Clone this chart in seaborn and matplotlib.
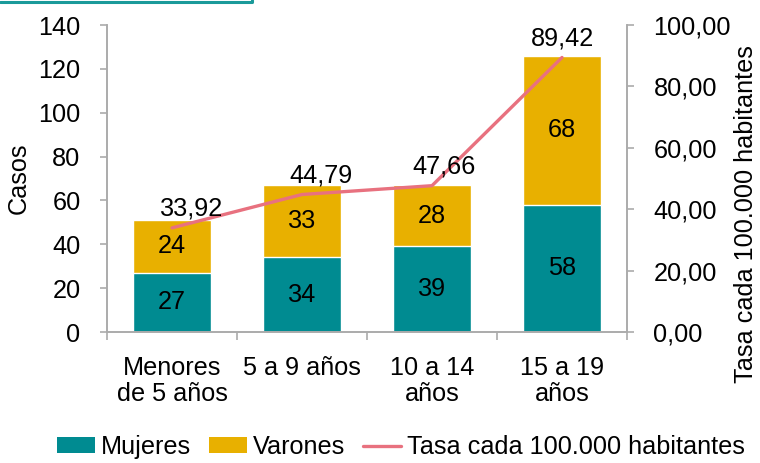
import numpy as np
import pandas as pd
import matplotlib
matplotlib.use('Agg')
import matplotlib.pyplot as plt
from matplotlib.lines import Line2D
from matplotlib.patches import Patch
import seaborn as sns

# datos
categorias = ['Menores\nde 5 años', '5 a 9 años', '10 a 14\naños', '15 a 19\naños']
mujeres = [27, 34, 39, 58]
varones = [24, 33, 28, 68]
tasa = [33.92, 44.79, 47.66, 89.42]
yticks_casos = [0, 20, 40, 60, 80, 100, 120, 140]
yticks_tasa = [0, 20, 40, 60, 80, 100]

TEAL = '#008B91'
GOLD = '#E8B000'
PINK = '#E8717F'
GRAY = '#ABABAB'

sns.set_theme(style='white')
plt.rcParams['font.family'] = ['Liberation Sans', 'DejaVu Sans']
plt.rcParams['text.color'] = 'black'
plt.rcParams['axes.labelcolor'] = 'black'
FS = 18.2

df = pd.DataFrame({'cat': categorias, 'mujeres': mujeres, 'varones': varones, 'tasa': tasa})
df['total'] = df['mujeres'] + df['varones']

fig = plt.figure(figsize=(7.6, 4.63), dpi=100)
ax = fig.add_axes([107 / 760, 1 - 332 / 463, 520 / 760, 307 / 463])

sns.barplot(data=df, x='cat', y='total', color=GOLD, width=0.6, saturation=1, ax=ax)
sns.barplot(data=df, x='cat', y='mujeres', color=TEAL, width=0.6, saturation=1, ax=ax)
ax.bar_label(ax.containers[1], labels=[str(v) for v in mujeres], label_type='center',
             fontsize=FS, color='black')
for i, (m, v) in enumerate(zip(mujeres, varones)):
    ax.text(i, m + v / 2, str(v), ha='center', va='center', fontsize=FS, color='black')

ax.set_xlim(-0.5, len(categorias) - 0.5)
ax.set_ylim(0, 140)
ax.set_yticks(yticks_casos)
ax.set_yticklabels([str(t) for t in yticks_casos], fontsize=FS)
ax.set_xticks(range(len(categorias)))
ax.set_xticklabels(categorias, fontsize=FS, linespacing=1.15)
ax.set_xticks(np.arange(-0.5, len(categorias)), minor=True)
ax.tick_params(axis='x', which='major', length=0, pad=17, labelcolor='black')
ax.tick_params(axis='x', which='minor', length=6, width=1.2, color=GRAY, direction='out', bottom=True)
ax.tick_params(axis='y', length=5, width=1.2, color=GRAY, direction='out', left=True, pad=14,
               labelcolor='black')
ax.set_xlabel('')
ax.set_ylabel('Casos', fontsize=FS)
ax.yaxis.set_label_coords(-0.147, 0.5)

ax2 = ax.twinx()
sns.lineplot(x=np.arange(len(tasa)), y=tasa, color=PINK, linewidth=2.4, ax=ax2)
ax2.set_ylim(0, 100)
ax2.set_yticks(yticks_tasa)
ax2.set_yticklabels([f'{t:.2f}'.replace('.', ',') for t in yticks_tasa], fontsize=FS)
ax2.tick_params(axis='y', length=5, width=1.2, color=GRAY, direction='out', right=True, pad=14,
                labelcolor='black')
ax2.set_ylabel('Tasa cada 100.000 habitantes', fontsize=FS)
ax2.yaxis.set_label_coords(1.205, 0.385)

dx = [20, 19, 12, 0]
for i, v in enumerate(tasa):
    ax2.annotate(f'{v:.2f}'.replace('.', ','), (i, v), xytext=(dx[i] * 0.72, 5),
                 textcoords='offset points', ha='center', va='bottom', fontsize=FS, color='black')

for a in (ax, ax2):
    a.spines['top'].set_visible(False)
    for s in ('left', 'right', 'bottom'):
        a.spines[s].set_color(GRAY)
        a.spines[s].set_linewidth(1.2)

handles = [Patch(facecolor=TEAL, edgecolor='none'),
           Patch(facecolor=GOLD, edgecolor='none'),
           Line2D([0], [0], color=PINK, linewidth=2.4)]
fig.legend(handles, ['Mujeres', 'Varones', 'Tasa cada 100.000 habitantes'],
           loc='center', bbox_to_anchor=(401 / 760, 16 / 463), ncol=3, frameon=False,
           fontsize=FS, handlelength=1.5, handleheight=0.6, handletextpad=0.25,
           columnspacing=0.7, borderpad=0)

# borde del cuadro de texto cortado arriba
fig.add_artist(Line2D([0, 252 / 760, 252 / 760], [1 - 2 / 463, 1 - 2 / 463, 1.0],
                      color='#1A9A9A', linewidth=2.2, transform=fig.transFigure))

fig.savefig('out.png', dpi=100)
